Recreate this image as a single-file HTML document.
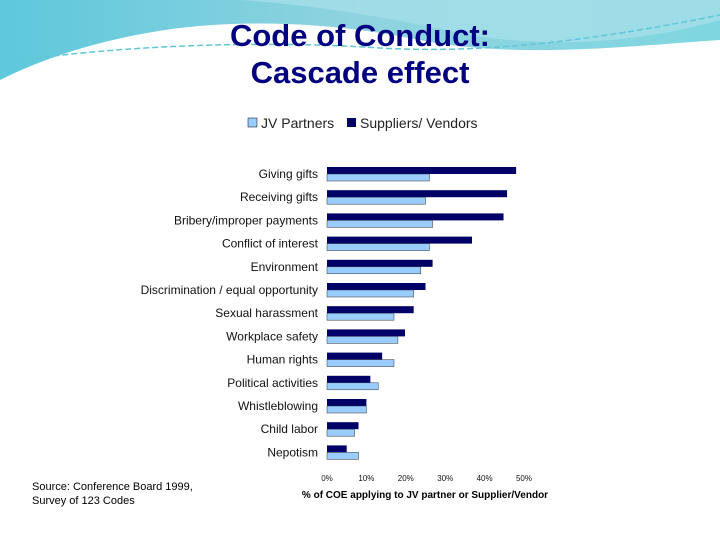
<!DOCTYPE html>
<html><head><meta charset="utf-8"><style>
body{margin:0;width:720px;height:540px;overflow:hidden;background:#fff;font-family:"Liberation Sans",sans-serif}
</style></head><body>
<svg width="720" height="540">
<defs>
<linearGradient id="g1" x1="0" y1="0" x2="1" y2="0"><stop offset="0" stop-color="#5ec8dc"/><stop offset="0.5" stop-color="#8fd3df"/><stop offset="1" stop-color="#7fd6e0"/></linearGradient>
</defs>
<path d="M0,0 H720 V40 C640,45 520,60 420,40 C330,22 250,20 180,28 C100,38 40,60 0,80 Z" fill="url(#g1)"/>
<path d="M240,0 H720 V20 C650,40 560,50 470,35 C400,20 320,5 240,0 Z" fill="#a5dfe8" opacity="0.8"/>
<path d="M0,63 C120,45 260,40 380,48 C500,55 620,35 720,15" fill="none" stroke="#5fc6d6" stroke-width="1.5" stroke-dasharray="6 3"/>
<text x="360" y="46" text-anchor="middle" font-size="31" font-weight="bold" fill="#000080">Code of Conduct:</text>
<text x="360" y="83" text-anchor="middle" font-size="31" font-weight="bold" fill="#000080">Cascade effect</text>
<rect x="248" y="118" width="9" height="9" fill="#99ccff" stroke="#000" stroke-width="0.5"/>
<text x="261" y="128" font-size="14" fill="#222">JV Partners</text>
<rect x="347" y="118" width="9" height="9" fill="#000066"/>
<text x="360" y="128" font-size="14" fill="#222">Suppliers/ Vendors</text>
<g id="chart"></g>
<text x="425" y="498" text-anchor="middle" font-size="10" font-weight="bold" fill="#000">% of COE applying to JV partner or Supplier/Vendor</text>
<text x="32" y="490" font-size="11" fill="#000">Source:  Conference Board 1999,</text>
<text x="32" y="504" font-size="11" fill="#000">Survey of 123 Codes</text>
</svg>
<script>
const categories=["Giving gifts","Receiving gifts","Bribery/improper payments","Conflict of interest","Environment","Discrimination / equal opportunity","Sexual harassment","Workplace safety","Human rights","Political activities","Whistleblowing","Child labor","Nepotism"];
const suppliers=[48,45.7,44.8,36.8,26.8,25,22,19.8,14,11,10,8,5];
const jv=[26,25,26.8,26,23.8,22,17,18,17,13,10,7,8];
const ticks=[0,10,20,30,40,50];
const NS="http://www.w3.org/2000/svg";
const g=document.getElementById('chart');
const x=v=>327+v*3.94;
const y=i=>167+i*23.2;
function mk(t,a){const e=document.createElementNS(NS,t);for(const k in a)e.setAttribute(k,a[k]);g.appendChild(e);return e;}
categories.forEach((c,i)=>{
 const s=mk('rect',{x:x(0),y:y(i),width:x(suppliers[i])-x(0),height:7,fill:'#000066'});
 
 
 const j=mk('rect',{x:x(0),y:y(i)+7,width:x(jv[i])-x(0),height:7,fill:'#99ccff',stroke:'#333','stroke-width':0.5});
 
 
 const t=mk('text',{x:318,y:y(i)+11,'text-anchor':'end','font-size':12,fill:'#111'});
 t.textContent=c;
 
 
});
ticks.forEach(v=>{
 const t=mk('text',{x:x(v),y:481,'text-anchor':'middle','font-size':8,fill:'#111'});
 t.textContent=v+'%';
 
 
});
</script>
</body></html>
